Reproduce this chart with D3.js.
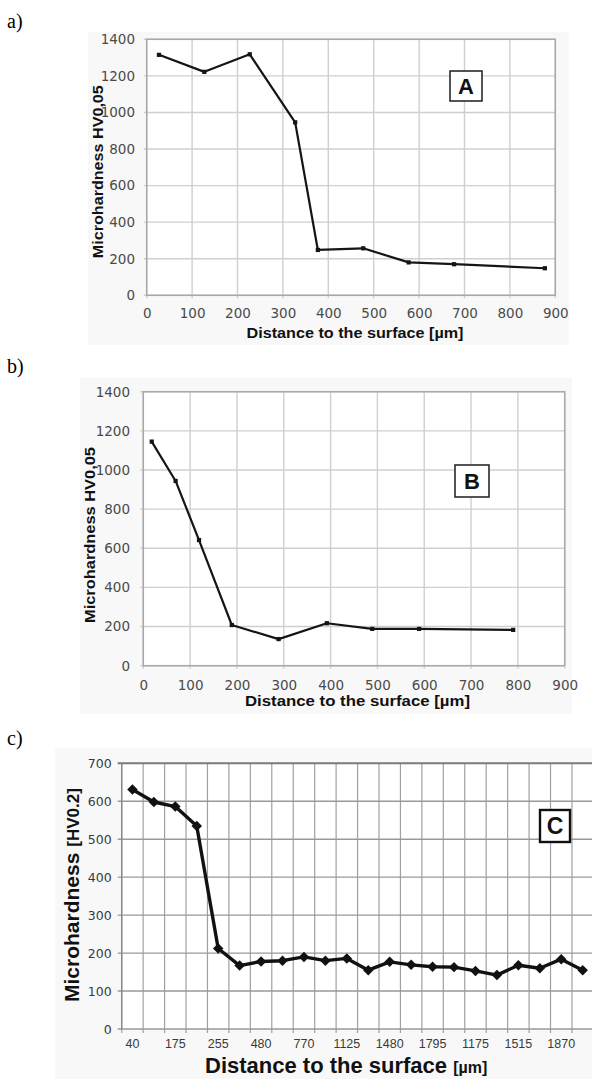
<!DOCTYPE html>
<html>
<head>
<meta charset="utf-8">
<script src="https://cdn.jsdelivr.net/npm/d3@7/dist/d3.min.js"></script>
<style>
  body { margin: 0; background: #fff; }
  .lbl { font-family: "Liberation Serif", "Times New Roman", serif; font-size: 20px; fill: #000; }
  .ab .tick text { font-family: "DejaVu Sans", sans-serif; font-size: 13.5px; fill: #4a4a4a; }
  .c .tick text { font-family: "Liberation Sans", Arial, sans-serif; font-size: 12.5px; fill: #3a3a3a; }
  .c .yax .tick text { font-family: "DejaVu Sans", sans-serif; font-size: 12.5px; }
  .title { font-family: "Liberation Sans", Arial, sans-serif; font-weight: bold; fill: #111; }
  .domain { display: none; }
</style>
</head>
<body>
<div id="chart"></div>
<script>
// panel a) distance [um] and hardness HV0,05
var distA = [27, 127, 227, 327, 377, 477, 577, 677, 877];
var hardA = [1315, 1222, 1318, 946, 248, 257, 180, 170, 148];

// panel b)
var distB = [18, 69, 119, 189, 289, 392, 489, 589, 790];
var hardB = [1145, 944, 642, 208, 136, 217, 188, 188, 183];

// panel c) category axis, only every second category is labelled
var hardC = [631, 598, 586, 535, 212, 167, 178, 180, 190, 180, 186, 155,
             177, 169, 164, 163, 153, 142, 168, 160, 184, 155];
var labelsC = ["40", "175", "255", "480", "770", "1125", "1480", "1795", "1175", "1515", "1870"];

// tick values
var xTicksAB = [0, 100, 200, 300, 400, 500, 600, 700, 800, 900];
var yTicksAB = [0, 200, 400, 600, 800, 1000, 1200, 1400];
var yTicksC = [0, 100, 200, 300, 400, 500, 600, 700];

var svg = d3.select("#chart")
  .append("svg")
  .attr("width", 592)
  .attr("height", 1079);

//draws panels a) and b), which share the same layout
function panelAB(o) {
  var x = d3.scaleLinear().domain([0, 900]).range([o.left, o.right]);
  var y = d3.scaleLinear().domain([0, 1400]).range([o.bottom, o.top]);
  var g = svg.append("g").attr("class", "ab");

  //faint backdrop of the pasted chart
  g.append("rect")
    .attr("x", o.bg[0]).attr("y", o.bg[1])
    .attr("width", o.bg[2] - o.bg[0]).attr("height", o.bg[3] - o.bg[1])
    .attr("fill", "#f8f8f8");

  g.append("rect")
    .attr("x", o.left).attr("y", o.top)
    .attr("width", o.right - o.left).attr("height", o.bottom - o.top)
    .attr("fill", "#fff");

  //grid lines
  g.selectAll(".vg")
    .data(xTicksAB)
    .enter()
    .append("line")
    .attr("x1", function(d) { return x(d); })
    .attr("x2", function(d) { return x(d); })
    .attr("y1", o.top)
    .attr("y2", o.bottom + 3)
    .attr("stroke", "#cfcfcf")
    .attr("stroke-width", 1.4);

  g.selectAll(".hg")
    .data(yTicksAB)
    .enter()
    .append("line")
    .attr("x1", o.left - 3)
    .attr("x2", o.right)
    .attr("y1", function(d) { return y(d); })
    .attr("y2", function(d) { return y(d); })
    .attr("stroke", "#cfcfcf")
    .attr("stroke-width", 1.4);

  //plot border
  g.append("rect")
    .attr("x", o.left).attr("y", o.top)
    .attr("width", o.right - o.left).attr("height", o.bottom - o.top)
    .attr("fill", "none")
    .attr("stroke", "#a8a8a8")
    .attr("stroke-width", 1.5);

  //axes (labels only)
  g.append("g")
    .attr("transform", "translate(0," + o.bottom + ")")
    .call(d3.axisBottom(x).tickValues(xTicksAB).tickFormat(d3.format("d")).tickSize(0).tickPadding(o.xPad));

  g.append("g")
    .attr("transform", "translate(" + o.left + ",0)")
    .call(d3.axisLeft(y).tickValues(yTicksAB).tickFormat(d3.format("d")).tickSize(0).tickPadding(o.yPad));

  //data line
  var pts = o.dist.map(function(d, i) { return [d, o.hard[i]]; });
  var line = d3.line()
    .x(function(d) { return x(d[0]); })
    .y(function(d) { return y(d[1]); });

  g.append("path")
    .datum(pts)
    .attr("d", line)
    .attr("fill", "none")
    .attr("stroke", "#151515")
    .attr("stroke-width", 2.2)
    .attr("stroke-linejoin", "round");

  g.selectAll(".pt")
    .data(pts)
    .enter()
    .append("path")
    .attr("transform", function(d) { return "translate(" + x(d[0]) + "," + y(d[1]) + ")"; })
    .attr("d", d3.symbol().type(d3.symbolSquare).size(18))
    .attr("fill", "#151515");

  //axis titles
  g.append("text")
    .attr("class", "title")
    .attr("x", o.xTitle[0]).attr("y", o.xTitle[1])
    .attr("text-anchor", "middle")
    .attr("font-size", 14)
    .attr("textLength", o.xTitle[2])
    .attr("lengthAdjust", "spacingAndGlyphs")
    .text("Distance to the surface [µm]");

  g.append("text")
    .attr("class", "title")
    .attr("transform", "translate(" + o.yTitle[0] + "," + o.yTitle[1] + ") rotate(-90)")
    .attr("text-anchor", "middle")
    .attr("font-size", 14)
    .attr("textLength", o.yTitle[2])
    .attr("lengthAdjust", "spacingAndGlyphs")
    .text("Microhardness HV0,05");

  //letter box
  g.append("rect")
    .attr("x", o.box[0]).attr("y", o.box[1])
    .attr("width", o.box[2]).attr("height", o.box[3])
    .attr("fill", "#fff")
    .attr("stroke", "#2a2a2a")
    .attr("stroke-width", 1.6);

  g.append("text")
    .attr("class", "title")
    .attr("x", o.box[0] + o.box[2] / 2)
    .attr("y", o.box[1] + o.box[3] / 2 + 8)
    .attr("text-anchor", "middle")
    .attr("font-size", 22)
    .text(o.letter);

  svg.append("text").attr("class", "lbl").attr("x", 7).attr("y", o.lblY).text(o.lbl);
}

panelAB({
  dist: distA, hard: hardA, letter: "A", lbl: "a)", lblY: 28,
  left: 146.7, right: 555.3, top: 39.3, bottom: 295.3,
  bg: [88, 32, 569, 345],
  xPad: 13, yPad: 11.7,
  xTitle: [355, 338, 217], yTitle: [103, 171.7, 173],
  box: [450, 71, 32, 30]
});

panelAB({
  dist: distB, hard: hardB, letter: "B", lbl: "b)", lblY: 373,
  left: 143.3, right: 564.7, top: 391.7, bottom: 665.7,
  bg: [80, 378, 572, 714],
  xPad: 14.5, yPad: 13.3,
  xTitle: [357.5, 706, 225], yTitle: [95, 535, 176],
  box: [455, 465, 34, 32]
});

//panel c)
(function() {
  var left = 121.7, right = 593.4, top = 763.3, bottom = 1029;
  var x = d3.scaleBand().domain(d3.range(hardC.length)).range([left, right]);
  var y = d3.scaleLinear().domain([0, 700]).range([bottom, top]);
  var g = svg.append("g").attr("class", "c");

  g.append("rect")
    .attr("x", 55).attr("y", 748)
    .attr("width", 537).attr("height", 331)
    .attr("fill", "#f8f8f8");

  g.append("rect")
    .attr("x", left).attr("y", top)
    .attr("width", right - left).attr("height", bottom - top)
    .attr("fill", "#fff");

  //vertical grid on category boundaries
  g.selectAll(".vg")
    .data(d3.range(hardC.length + 1))
    .enter()
    .append("line")
    .attr("x1", function(i) { return left + i * x.step(); })
    .attr("x2", function(i) { return left + i * x.step(); })
    .attr("y1", top)
    .attr("y2", bottom + 4)
    .attr("stroke", "#a0a0a0")
    .attr("stroke-width", 1.2);

  g.selectAll(".hg")
    .data(yTicksC)
    .enter()
    .append("line")
    .attr("x1", left - 4)
    .attr("x2", right)
    .attr("y1", function(d) { return y(d); })
    .attr("y2", function(d) { return y(d); })
    .attr("stroke", function(d) { return d === 700 ? "#7a7a7a" : "#999"; })
    .attr("stroke-width", function(d) { return d === 700 ? 2 : 1.4; });

  g.append("line")
    .attr("x1", left).attr("x2", left)
    .attr("y1", top).attr("y2", bottom)
    .attr("stroke", "#888").attr("stroke-width", 1.4);

  g.append("g")
    .attr("transform", "translate(0," + bottom + ")")
    .call(d3.axisBottom(x)
      .tickValues(d3.range(0, hardC.length, 2))
      .tickFormat(function(d) { return labelsC[d / 2]; })
      .tickSize(0).tickPadding(10));

  g.append("g")
    .attr("class", "yax")
    .attr("transform", "translate(" + left + ",0)")
    .call(d3.axisLeft(y).tickValues(yTicksC).tickSize(0).tickPadding(10));

  var cx = function(d, i) { return x(i) + x.bandwidth() / 2; };
  var line = d3.line()
    .x(cx)
    .y(function(d) { return y(d); });

  g.append("path")
    .datum(hardC)
    .attr("d", line)
    .attr("fill", "none")
    .attr("stroke", "#111")
    .attr("stroke-width", 3.4)
    .attr("stroke-linejoin", "round");

  g.selectAll(".pt")
    .data(hardC)
    .enter()
    .append("path")
    .attr("transform", function(d, i) { return "translate(" + cx(d, i) + "," + y(d) + ") rotate(45)"; })
    .attr("d", d3.symbol().type(d3.symbolSquare).size(55))
    .attr("fill", "#111");

  //axis titles
  var xt = g.append("text")
    .attr("class", "title")
    .attr("x", 205).attr("y", 1073);
  xt.append("tspan").attr("font-size", 22).text("Distance to the surface ");
  xt.append("tspan").attr("font-size", 16).text("[µm]");

  var yt = g.append("text")
    .attr("class", "title")
    .attr("transform", "translate(79,1002) rotate(-90)");
  yt.append("tspan").attr("font-size", 21).text("Microhardness ");
  yt.append("tspan").attr("font-size", 17).text("[HV0.2]");

  g.append("rect")
    .attr("x", 540).attr("y", 810)
    .attr("width", 30).attr("height", 32)
    .attr("fill", "#fff")
    .attr("stroke", "#111")
    .attr("stroke-width", 2.4);

  g.append("text")
    .attr("class", "title")
    .attr("x", 555).attr("y", 834)
    .attr("text-anchor", "middle")
    .attr("font-size", 23)
    .text("C");

  svg.append("text").attr("class", "lbl").attr("x", 7).attr("y", 745).text("c)");
})();
</script>
</body>
</html>
